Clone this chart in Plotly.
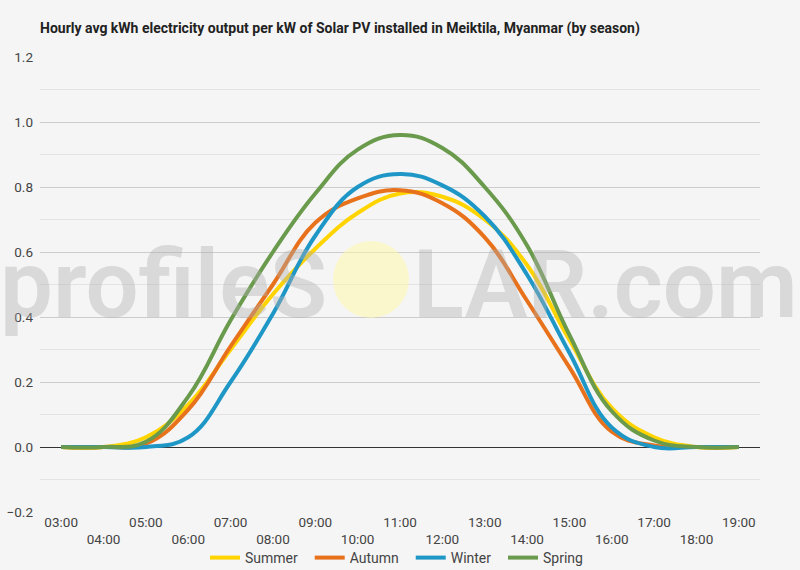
import plotly.graph_objects as go

# hourly categories
hours = ["03:00", "04:00", "05:00", "06:00", "07:00", "08:00", "09:00", "10:00", "11:00",
         "12:00", "13:00", "14:00", "15:00", "16:00", "17:00", "18:00", "19:00"]

# avg kWh per kW installed, by season
summer = [0, 0, 0.03, 0.13, 0.30, 0.47, 0.61, 0.72, 0.78, 0.77, 0.70, 0.56, 0.33, 0.12, 0.03, 0, 0]
autumn = [0, 0, 0.01, 0.115, 0.31, 0.50, 0.69, 0.765, 0.79, 0.75, 0.645, 0.45, 0.245, 0.047, 0.005, 0, 0]
winter = [0, 0, 0, 0.03, 0.20, 0.41, 0.65, 0.80, 0.84, 0.805, 0.71, 0.53, 0.29, 0.06, 0, 0, 0]
spring = [0, 0, 0.016, 0.155, 0.39, 0.60, 0.78, 0.915, 0.96, 0.92, 0.80, 0.62, 0.345, 0.11, 0.02, 0, 0]

seasons = [("Summer", summer, "#FFD400"),
           ("Autumn", autumn, "#E8711C"),
           ("Winter", winter, "#1F97C6"),
           ("Spring", spring, "#6A9A4C")]

pad = "\u00a0\u00a0"  # a little extra room between legend entries
fig = go.Figure()
for name, vals, col in seasons:
    fig.add_trace(go.Scatter(x=hours, y=vals, name=name + pad, mode="lines",
                             line=dict(color=col, width=4, shape="spline", smoothing=1.2)))

# stagger the hour labels over two rows
ticktext = [h if i % 2 == 0 else "<br>" + h for i, h in enumerate(hours)]

bg = "#f5f5f5"
fig.update_layout(
    width=800, height=570,
    paper_bgcolor=bg, plot_bgcolor=bg,
    margin=dict(l=40, r=40, t=57, b=58),
    font=dict(family="Roboto, sans-serif", size=13, color="#444"),
    title=dict(text="<b>Hourly avg kWh electricity output per kW of Solar PV installed in Meiktila, Myanmar (by season)</b>",
               x=40 / 800, xanchor="left", y=1 - 28 / 570, yanchor="middle",
               font=dict(size=14, color="#222")),
    showlegend=True,
    legend=dict(orientation="h", x=0.5, xanchor="center", yref="container",
                y=(570 - 558) / 570, yanchor="middle",
                font=dict(size=14, color="#444"), bgcolor="rgba(0,0,0,0)",
                itemwidth=30, tracegroupgap=0),
    xaxis=dict(type="category", tickvals=hours, ticktext=ticktext, showgrid=False,
               range=[-0.5, len(hours) - 0.5], automargin=False,
               ticks="", tickfont=dict(size=13.5, color="#444")),
    yaxis=dict(range=[-0.2, 1.2], dtick=0.2, tickformat=".1f", showgrid=True, automargin=False,
               gridcolor="#cccccc", zeroline=True, zerolinecolor="#333", zerolinewidth=1.3,
               ticks="", ticklabelstandoff=6, tickfont=dict(size=13.5, color="#444"),
               minor=dict(dtick=0.1, showgrid=True, gridcolor="#e3e3e3")),
)

# profileSOLAR watermark
wm_font = dict(family="Roboto", size=94, weight=600, color="rgba(175,175,175,0.4)")
fig.add_shape(type="circle", xref="paper", yref="paper",
              x0=(333 - 40) / 720, x1=(409 - 40) / 720,
              y0=(512 - 318) / 455, y1=(512 - 241) / 455,
              fillcolor="rgba(255,247,170,0.55)", line=dict(width=0), layer="above")
fig.add_annotation(text="profileS", xref="paper", yref="paper",
                   x=(329 - 40) / 720, xanchor="right", y=(512 - 285) / 455, yanchor="middle",
                   showarrow=False, font=wm_font)
fig.add_annotation(text="LAR.com", xref="paper", yref="paper",
                   x=(411 - 40) / 720, xanchor="left", y=(512 - 285) / 455, yanchor="middle",
                   showarrow=False, font=wm_font)

fig.write_html("out.html", config={"displayModeBar": False},
               post_script="document.body.style.margin='0';")
